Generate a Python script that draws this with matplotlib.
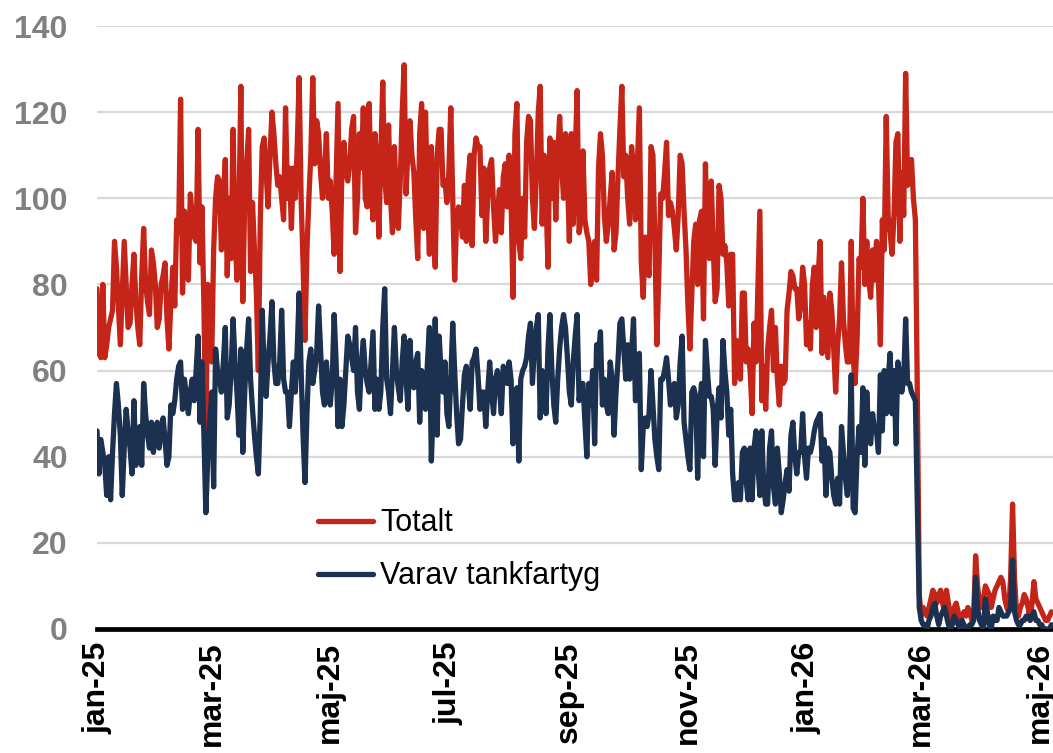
import pandas as pd
import matplotlib
import matplotlib.pyplot as plt

matplotlib.use('Agg')
plt.rcParams['font.family'] = ['Liberation Sans', 'DejaVu Sans']

# Daily values from 2025-01-01
start_date = '2025-01-01'

totalt = [
    # jan - feb 2025
    79, 64, 63, 80, 63, 66, 70, 72, 74, 90,
    84, 75, 66, 78, 90, 80, 70, 71, 80, 87,
    76, 70, 66, 82, 93, 80, 76, 73, 88, 85,
    80, 70, 72, 80, 82, 85, 72, 65, 76, 84,
    75, 95, 92, 123, 78, 97, 85, 81, 101, 96,
    91, 90, 116, 85, 98, 75, 45, 80, 72, 62,
    88, 100, 105,
    # mar - apr
    104, 88, 100, 109, 82, 100, 86, 116, 92, 81,
    95, 126, 76, 100, 108, 116, 83, 99, 88, 78,
    60, 95, 112, 114, 106, 98, 110, 120, 115, 108,
    103, 105, 100, 95, 121, 100, 107, 93, 107, 100,
    112, 128, 100, 85, 67, 88, 100, 110, 128, 108,
    118, 115, 106, 100, 105, 115, 100, 104, 97, 87,
    105, 122,
    # maj - jun
    83, 107, 113, 106, 104, 108, 116, 119, 92, 100,
    115, 107, 121, 100, 98, 122, 103, 95, 115, 108,
    91, 110, 127, 105, 99, 117, 100, 92, 112, 100,
    93, 104, 120, 131, 101, 112, 118, 110, 106, 95,
    86, 115, 122, 93, 120, 100, 87, 112, 95, 84,
    110, 116, 116, 103, 104, 99, 106, 121, 100, 81,
    95, 98,
    # jul - aug
    96, 91, 103, 90, 105, 110, 89, 110, 114, 112,
    112, 96, 107, 90, 100, 107, 109, 98, 90, 96,
    102, 92, 105, 108, 98, 110, 100, 77, 115, 122,
    90, 86, 100, 91, 113, 119, 118, 100, 93, 105,
    120, 126, 94, 110, 100, 84, 114, 100, 113, 95,
    110, 119, 108, 100, 115, 105, 90, 115, 94, 110,
    125, 92,
    # sep - okt
    95, 111, 95, 92, 90, 80, 88, 90, 81, 107,
    115, 110, 96, 90, 94, 100, 106, 88, 92, 105,
    116, 126, 105, 110, 100, 94, 112, 107, 95, 108,
    121, 85, 77, 91, 86, 82, 112, 110, 90, 66,
    82, 101, 100, 106, 113, 96, 99, 97, 93, 88,
    96, 110, 108, 97, 88, 75, 65, 78, 90, 94,
    80, 95,
    # nov - dec
    97, 72, 108, 90, 86, 104, 89, 76, 79, 103,
    100, 87, 89, 85, 75, 87, 87, 57, 67, 64,
    58, 78, 78, 62, 65, 60, 50, 71, 62, 80,
    97, 53, 61, 51, 65, 70, 74, 60, 70, 58,
    52, 61, 57, 58, 74, 78, 83, 82, 79, 79,
    72, 75, 84, 80, 66, 71, 65, 80, 84, 70,
    82, 90,
    # jan - feb 2026
    64, 77, 70, 63, 78, 74, 65, 55, 66, 72,
    85, 72, 66, 62, 62, 90, 63, 57, 67, 86,
    84, 100, 80, 90, 81, 77, 88, 81, 90, 81,
    66, 95, 88, 119, 96, 92, 87, 96, 113, 115,
    90, 106, 96, 129, 103, 108, 109, 100, 95, 55,
    8,
    # mar - maj 2026
    3, 5, 4, 3, 5, 7, 9, 8, 6, 8,
    9, 6, 4, 9, 6, 3, 2, 5, 6, 4,
    2, 3, 4, 3, 5, 4, 2, 3, 17, 10,
    6, 5, 7, 10, 9, 8, 5, 7, 9, 10,
    11, 12, 11, 7, 5, 4, 12, 29, 12, 4,
    3, 5, 6, 8, 7, 5, 2, 6, 11, 7,
    6, 5, 4, 3, 2, 2, 3, 4,
]

tankfartyg = [
    # jan - feb 2025
    46, 36, 44, 41, 38, 31, 40, 30, 41, 50,
    57, 52, 45, 31, 42, 51, 46, 42, 36, 53,
    38, 44, 47, 38, 57, 50, 45, 42, 48, 41,
    45, 48, 42, 46, 49, 44, 38, 40, 52, 50,
    53, 58, 61, 62, 51, 58, 54, 50, 55, 58,
    53, 60, 68, 48, 62, 45, 27, 40, 48, 55,
    33, 65, 60,
    # mar - apr
    58, 55, 62, 70, 49, 52, 60, 72, 62, 55,
    45, 65, 41, 55, 65, 72, 58, 51, 45, 40,
    36, 50, 74, 60, 54, 62, 68, 76, 62, 57,
    57, 62, 74, 58, 55, 55, 47, 55, 62, 55,
    65, 78, 60, 45, 34, 50, 62, 65, 57, 60,
    64, 75, 65, 55, 52, 62, 55, 52, 58, 73,
    62, 47,
    # maj - jun
    58, 47, 52, 60, 68, 66, 63, 60, 70, 55,
    51, 62, 67, 60, 57, 55, 62, 69, 51, 58,
    51, 55, 70, 79, 58, 55, 50, 60, 70, 60,
    56, 53, 62, 68, 58, 51, 67, 57, 56, 62,
    64, 48, 60, 54, 51, 62, 70, 39, 52, 72,
    45, 68, 60, 55, 62, 50, 47, 58, 71, 60,
    50, 43,
    # jul - aug
    44, 52, 59, 61, 57, 51, 62, 63, 65, 59,
    51, 55, 55, 47, 55, 62, 55, 50, 58, 60,
    56, 50, 61, 59, 57, 62, 58, 43, 55, 56,
    39, 58, 60, 61, 63, 68, 71, 57, 65, 70,
    73, 49, 60, 58, 50, 65, 73, 60, 52, 48,
    58, 65, 70, 73, 70, 63, 55, 52, 62, 68,
    73, 53,
    # sep - okt
    57, 57, 48, 40, 57, 52, 60, 43, 66, 64,
    69, 52, 58, 52, 50, 62, 58, 45, 55, 62,
    71, 72, 65, 58, 66, 58, 64, 72, 53, 60,
    64, 37, 47, 49, 47, 50, 60, 52, 44, 40,
    37, 58, 58, 60, 63, 58, 52, 56, 57, 49,
    52, 62, 68, 48, 44, 40, 37, 55, 56, 54,
    35, 52,
    # nov - dec
    57, 40, 67, 60, 54, 54, 51, 38, 50, 56,
    49, 67, 60, 55, 45, 51, 36, 30, 30, 34,
    30, 41, 42, 34, 30, 42, 30, 42, 46, 38,
    31, 46, 33, 29, 29, 42, 46, 33, 29, 42,
    36, 27, 30, 34, 37, 32, 45, 48, 40, 36,
    41, 41, 50, 40, 35, 42, 41, 43, 46, 48,
    49, 50,
    # jan - feb 2026
    39, 44, 31, 42, 41, 35, 31, 29, 35, 29,
    47, 41, 35, 31, 39, 59, 28, 27, 40, 47,
    41, 56, 38, 55, 45, 43, 50, 46, 46, 41,
    59, 46, 60, 50, 58, 64, 50, 60, 43, 62,
    59, 55, 58, 72, 57, 57, 55, 54, 53, 29,
    5,
    # mar - maj 2026
    2, 1, 1, 0, 2, 3, 5, 6, 3, 1,
    3, 4, 5, 3, 1, 0, 1, 3, 2, 1,
    0, 2, 1, 0, 0, 1, 1, 2, 12, 5,
    2, 1, 0, 7, 4, 1, 0, 3, 2, 2,
    5, 4, 3, 3, 3, 4, 5, 16, 4, 2,
    1, 1, 2, 2, 3, 3, 2, 3, 4, 2,
    2, 1, 1, 0, 0, 0, 0, 1,
]

series = [totalt, tankfartyg]
series_labels = ['Totalt', 'Varav tankfartyg']
series_colors = ['#C42518', '#1C3150']

tick_dates = ['2025-01-01', '2025-03-01', '2025-05-01', '2025-07-01', '2025-09-01',
              '2025-11-01', '2026-01-01', '2026-03-01', '2026-05-01']
tick_labels = ['jan-25', 'mar-25', 'maj-25', 'jul-25', 'sep-25',
               'nov-25', 'jan-26', 'mar-26', 'maj-26']
y_ticks = [0, 20, 40, 60, 80, 100, 120, 140]

fig = plt.figure(figsize=(10.53, 7.53), dpi=100)
ax = fig.add_axes([97 / 1053, 124 / 753, 956 / 1053, 603 / 753])

for vals, lab, col in zip(series, series_labels, series_colors):
    dates = pd.date_range(start_date, periods=len(vals), freq='D')
    ax.plot(dates, vals, color=col, lw=3.8, label=lab, zorder=3,
            solid_joinstyle='round', solid_capstyle='round')

x0 = pd.Timestamp(start_date)
ax.set_xlim(x0, x0 + pd.Timedelta(days=491.8))
ax.set_ylim(0, 140)

# grid and spines
ax.set_yticks(y_ticks)
ax.yaxis.grid(True, color='#d9d9d9', lw=1.6)
ax.set_axisbelow(True)
for side in ['top', 'right', 'left']:
    ax.spines[side].set_visible(False)
ax.spines['bottom'].set_color('black')
ax.spines['bottom'].set_linewidth(3.4)
ax.spines['bottom'].set_zorder(2.5)

ax.set_yticklabels([str(v) for v in y_ticks], fontsize=23, fontweight='bold', color='#808080')
ax.tick_params(axis='y', length=0, pad=21)

ax.set_xticks(pd.to_datetime(tick_dates))
ax.set_xticklabels(tick_labels, rotation=90, fontsize=23, fontweight='bold', color='black')
ax.tick_params(axis='x', length=0, pad=9)

ax.legend(loc='upper left', bbox_to_anchor=(0.231, 0.200), frameon=False, fontsize=22,
          handlelength=1.8, handletextpad=0.25, labelspacing=0.75,
          borderpad=0, borderaxespad=0)

fig.savefig('out.png', dpi=100)
